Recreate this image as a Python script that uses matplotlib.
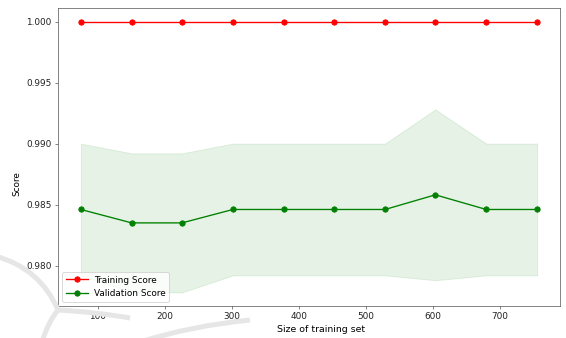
import matplotlib
matplotlib.use("Agg")
import matplotlib.pyplot as plt
import numpy as np
from matplotlib.path import Path
from matplotlib.patches import PathPatch

train_sizes = [75, 151, 226, 302, 378, 453, 529, 604, 680, 756]
train_mean = [1.0, 1.0, 1.0, 1.0, 1.0, 1.0, 1.0, 1.0, 1.0, 1.0]
train_std = [0.0, 0.0, 0.0, 0.0, 0.0, 0.0, 0.0, 0.0, 0.0, 0.0]
val_mean = [0.9846, 0.9835, 0.9835, 0.9846, 0.9846, 0.9846, 0.9846, 0.9858, 0.9846, 0.9846]
val_std = [0.0054, 0.0057, 0.0057, 0.0054, 0.0054, 0.0054, 0.0054, 0.0070, 0.0054, 0.0054]

W, H, DPI = 566, 338, 64
fig = plt.figure(figsize=(W / DPI, H / DPI), dpi=DPI)

# faint background emblem strokes (figure pixel coordinates, y from top)
def stroke(pts):
    verts = [(x / W, 1 - y / H) for x, y in pts]
    codes = [Path.MOVETO] + [Path.CURVE3] * (len(verts) - 1)
    fig.patches.append(PathPatch(Path(verts, codes), transform=fig.transFigure,
                                 fill=False, edgecolor="#e6e6e6", lw=5 * 72 / DPI,
                                 capstyle="butt", zorder=0))

stroke([(-5, 256), (40, 268), (58, 310)])
stroke([(58, 310), (48, 322), (42, 342)])
stroke([(58, 310), (95, 312), (130, 318)])
stroke([(140, 342), (190, 326), (250, 320)])

ax = fig.add_axes([58 / W, 32 / H, (560 - 58) / W, (306 - 8) / H])

t_mean = np.array(train_mean)
t_std = np.array(train_std)
v_mean = np.array(val_mean)
v_std = np.array(val_std)

ax.plot(train_sizes, train_mean, "o-", color="r", label="Training Score")
ax.plot(train_sizes, val_mean, "o-", color="g", label="Validation Score")
ax.fill_between(train_sizes, t_mean - t_std, t_mean + t_std, alpha=0.1, color="r")
ax.fill_between(train_sizes, v_mean - v_std, v_mean + v_std, alpha=0.1, color="g")

ax.set_xlabel("Size of training set", fontsize=10.5)
ax.set_ylabel("Score")
ax.xaxis.set_label_coords(0.525, -0.065)
ax.yaxis.set_label_coords(-0.072, 0.41)
ax.set_xticks([100, 200, 300, 400, 500, 600, 700])
ax.set_yticks([0.980, 0.985, 0.990, 0.995, 1.000])
ax.yaxis.set_major_formatter(matplotlib.ticker.FormatStrFormatter("%.3f"))
for s in ax.spines.values():
    s.set_color("#555555")
ax.tick_params(colors="#555555", labelcolor="#222222")
ax.legend(loc="lower left", handlelength=2.5, handletextpad=0.6)

fig.savefig("out.png", dpi=DPI)
